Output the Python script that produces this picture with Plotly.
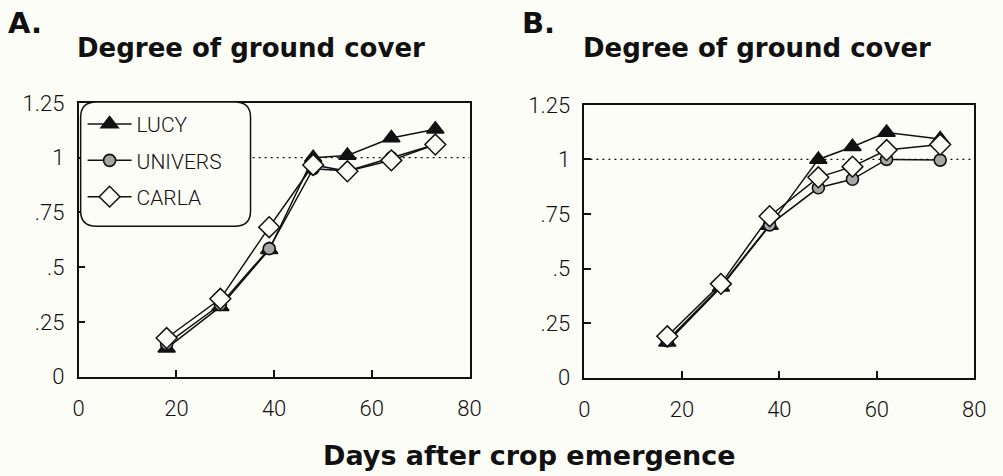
import plotly.graph_objects as go

# ---------------- data ----------------
days_a = [18, 29, 39, 48, 55, 64, 73]
lucy_a = [0.13, 0.32, 0.58, 1.00, 1.01, 1.09, 1.13]
univers_a = [0.15, 0.33, 0.585, 0.95, 0.94, 1.00, 1.06]
carla_a = [0.177, 0.356, 0.683, 0.967, 0.938, 0.988, 1.06]

days_b = [17, 28, 38, 48, 55, 62, 73]
lucy_b = [0.162, 0.415, 0.697, 1.00, 1.058, 1.123, 1.094]
univers_b = [0.17, 0.42, 0.70, 0.87, 0.909, 1.00, 0.997]
carla_b = [0.19, 0.43, 0.74, 0.918, 0.967, 1.043, 1.068]

series_names = ["LUCY", "UNIVERS", "CARLA"]
y_tickvals = [0, 0.25, 0.5, 0.75, 1, 1.25]
y_ticktext = ["0", ".25", ".5", ".75", "1", "1.25"]
x_tickvals = [0, 20, 40, 60, 80]
x_ticktext = ["0", "20", "40", "60", "80"]
reference_level = 1.0

panel_titles = ["Degree of ground cover", "Degree of ground cover"]
panel_letters = ["A.", "B."]
x_title = "Days after crop emergence"

# ---------------- styles ----------------
W, H = 1003, 476
BG = "#fdfdf8"
INK = "#111111"
THIN_FONT = dict(family="Roboto, Liberation Sans, Arial", size=22, color=INK, weight=300)
BOLD_FONT = "DejaVu Sans, Liberation Sans, Arial"

marker_styles = {
    "LUCY": dict(symbol="triangle-up", size=15, color=INK, line=dict(color=INK, width=1.5)),
    "UNIVERS": dict(symbol="circle", size=12, color="#a6a6a6", line=dict(color=INK, width=1.6)),
    "CARLA": dict(symbol="diamond", size=16, color=BG, line=dict(color=INK, width=1.5)),
}

def px_x(p):
    return p / W

def px_y(p):
    return 1 - p / H

fig = go.Figure()

panels = [
    ("x", "y", days_a, [lucy_a, univers_a, carla_a], True),
    ("x2", "y2", days_b, [lucy_b, univers_b, carla_b], False),
]

for xa, ya, days, vals, show in panels:
    # reference dotted line at full cover
    fig.add_trace(go.Scatter(
        x=[x_tickvals[0], x_tickvals[-1]], y=[reference_level, reference_level],
        mode="lines", line=dict(color=INK, width=1.3, dash="2px,4px"),
        xaxis=xa, yaxis=ya, showlegend=False, hoverinfo="skip",
    ))
    for name, v in zip(series_names, vals):
        fig.add_trace(go.Scatter(
            x=days, y=v, name=name, mode="lines+markers",
            line=dict(color=INK, width=1.5),
            marker=marker_styles[name],
            xaxis=xa, yaxis=ya, showlegend=show, legendgroup=name,
        ))

axis_common = dict(
    showgrid=False, zeroline=False, showline=True, linecolor=INK, linewidth=1.6,
    mirror=True, ticks="inside", ticklen=7, tickwidth=1.5, tickcolor=INK,
    tickfont=THIN_FONT,
)

fig.update_layout(
    width=W, height=H, margin=dict(l=0, r=0, t=0, b=0),
    paper_bgcolor=BG, plot_bgcolor=BG,
    xaxis=dict(domain=[px_x(74), px_x(472)], range=[0, 80], anchor="y",
               tickvals=x_tickvals, ticktext=x_ticktext, ticklabelstandoff=11, **axis_common),
    yaxis=dict(domain=[px_y(385), px_y(96)], range=[0, 1.25], anchor="x",
               tickvals=y_tickvals, ticktext=y_ticktext, ticklabelstandoff=8, **axis_common),
    xaxis2=dict(domain=[px_x(589), px_x(986)], range=[0, 80], anchor="y2",
                tickvals=x_tickvals, ticktext=x_ticktext, ticklabelstandoff=11, **axis_common),
    yaxis2=dict(domain=[px_y(386), px_y(98)], range=[0, 1.25], anchor="x2",
                tickvals=y_tickvals, ticktext=y_ticktext, ticklabelstandoff=8, **axis_common),
    legend=dict(
        x=px_x(78), y=px_y(97), xanchor="left", yanchor="top",
        bgcolor="rgba(0,0,0,0)", borderwidth=0,
        font=dict(family="Roboto, Liberation Sans, Arial", size=21, color=INK, weight=300),
        tracegroupgap=6, itemwidth=44,
    ),
    showlegend=True,
)

# rounded legend frame (panel A)
x0, x1 = px_x(76), px_x(249)
y0, y1 = px_y(226), px_y(95)
rx, ry = 16 / W, 16 / H
path = (f"M {x0+rx},{y1} L {x1-rx},{y1} Q {x1},{y1} {x1},{y1-ry} "
        f"L {x1},{y0+ry} Q {x1},{y0} {x1-rx},{y0} L {x0+rx},{y0} "
        f"Q {x0},{y0} {x0},{y0+ry} L {x0},{y1-ry} Q {x0},{y1} {x0+rx},{y1} Z")
fig.add_shape(type="path", path=path, xref="paper", yref="paper",
              line=dict(color=INK, width=1.5), fillcolor=BG, layer="above")

# titles
for letter, lx, title, tx in zip(panel_letters, [0, 523], panel_titles, [70, 586]):
    fig.add_annotation(text=f"<b>{letter}</b>", x=px_x(lx), y=px_y(12), xref="paper", yref="paper",
                       xanchor="left", yanchor="middle", showarrow=False,
                       font=dict(family=BOLD_FONT, size=29, color=INK))
    fig.add_annotation(text=f"<b>{title}</b>", x=px_x(tx), y=px_y(38), xref="paper", yref="paper",
                       xanchor="left", yanchor="middle", showarrow=False,
                       font=dict(family=BOLD_FONT, size=26, color=INK))

fig.add_annotation(text=f"<b>{x_title}</b>", x=px_x(533), y=px_y(468), xref="paper", yref="paper",
                   xanchor="center", yanchor="middle", showarrow=False,
                   font=dict(family=BOLD_FONT, size=27, color=INK))

fig.write_html("out.html")
